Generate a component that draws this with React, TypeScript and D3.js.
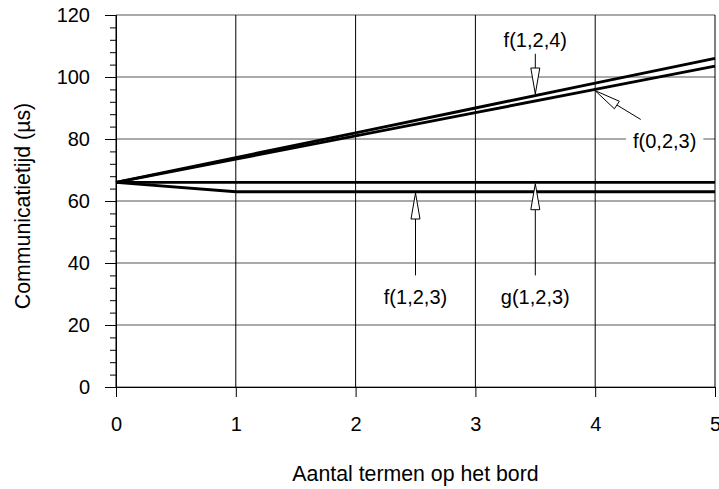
import React, { useEffect, useRef } from "react";
import * as d3 from "d3";

const xTicks = [0, 1, 2, 3, 4, 5];
const yTicks = [0, 20, 40, 60, 80, 100, 120];
const f124 = [66, 74, 82, 90, 98, 106];
const f023 = [66, 73.5, 81, 88.5, 96, 103.5];
const g123 = [66, 66, 66, 66, 66, 66];
const f123 = [66, 63, 63, 63, 63, 63];

const seriesList = [
  { name: "f(1,2,4)", values: f124 },
  { name: "f(0,2,3)", values: f023 },
  { name: "g(1,2,3)", values: g123 },
  { name: "f(1,2,3)", values: f123 },
];

const W = 719;
const H = 489;
const margin = { top: 15, right: 4, bottom: 102, left: 116 };
const font = "'Liberation Sans', Arial, sans-serif";

const App = () => {
  const ref = useRef(null);

  useEffect(() => {
    const svg = d3.select(ref.current);
    svg.selectAll("*").remove();

    const x = d3.scaleLinear().domain([0, 5]).range([margin.left, W - margin.right]);
    const y = d3.scaleLinear().domain([0, 120]).range([H - margin.bottom, margin.top]);

    // horizontal grid
    svg
      .append("g")
      .selectAll("line")
      .data(yTicks)
      .join("line")
      .attr("x1", x(0))
      .attr("x2", x(5))
      .attr("y1", (d) => y(d))
      .attr("y2", (d) => y(d))
      .attr("stroke", "#555")
      .attr("stroke-width", 1);

    // vertical grid
    svg
      .append("g")
      .selectAll("line")
      .data(xTicks)
      .join("line")
      .attr("x1", (d) => x(d))
      .attr("x2", (d) => x(d))
      .attr("y1", y(0))
      .attr("y2", y(120))
      .attr("stroke", "#000")
      .attr("stroke-width", 1);

    // y axis: major + minor ticks
    const yAxis = svg
      .append("g")
      .attr("transform", `translate(${x(0)},0)`)
      .call(d3.axisLeft(y).tickValues(yTicks).tickSize(11).tickPadding(15));
    yAxis.select(".domain").attr("stroke", "#000");
    yAxis.selectAll("text").attr("font-size", 20).attr("font-family", font).attr("fill", "#000");
    svg
      .append("g")
      .attr("transform", `translate(${x(0)},0)`)
      .call(
        d3
          .axisLeft(y)
          .tickValues(d3.range(0, 121, 4).filter((v) => v % 20 !== 0))
          .tickSize(6)
          .tickFormat(() => "")
      )
      .call((g) => g.select(".domain").remove());

    // x axis
    const xAxis = svg
      .append("g")
      .attr("transform", `translate(0,${y(0)})`)
      .call(d3.axisBottom(x).tickValues(xTicks).tickSize(10).tickPadding(20).tickFormat(d3.format("d")));
    xAxis.select(".domain").attr("stroke", "#000");
    xAxis.selectAll("text").attr("font-size", 20).attr("font-family", font).attr("fill", "#000");

    // series
    const line = d3
      .line<number>()
      .x((d, i) => x(xTicks[i]))
      .y((d) => y(d));

    svg
      .append("g")
      .selectAll("path")
      .data(seriesList)
      .join("path")
      .attr("d", (d) => line(d.values))
      .attr("fill", "none")
      .attr("stroke", "#000")
      .attr("stroke-width", 2.9);

    const valAt = (vals, xv) => {
      const i = Math.floor(xv);
      const t = xv - i;
      return i >= 5 ? vals[5] : vals[i] * (1 - t) + vals[i + 1] * t;
    };

    // annotations: label position (data units), arrow tail (data units), target
    const notes = [
      { text: "f(1,2,4)", vals: f124, at: 3.5, lx: 3.5, ly: 112, tx: 3.5, ty: 107.5, off: -1.6 },
      { text: "f(0,2,3)", vals: f023, at: 4, lx: 4.58, ly: 79.5, tx: 4.38, ty: 86.3, off: 1.3 },
      { text: "f(1,2,3)", vals: f123, at: 2.5, lx: 2.5, ly: 29, tx: 2.5, ty: 36, off: 1.3 },
      { text: "g(1,2,3)", vals: g123, at: 3.5, lx: 3.5, ly: 29, tx: 3.5, ty: 36, off: 1.3 },
    ];

    const ng = svg.append("g");
    notes.forEach((n) => {
      const tipX = x(n.at);
      const tipYraw = y(valAt(n.vals, n.at));
      const tailX = x(n.tx);
      const tailY = y(n.ty);
      const ang = Math.atan2(tailY - tipYraw, tailX - tipX);
      const tipY = tipYraw + n.off;
      const ux = Math.cos(ang);
      const uy = Math.sin(ang);
      const len = 26;
      const hw = 4.5;
      const bx = tipX + ux * len;
      const by = tipY + uy * len;

      const lab = ng.append("g");
      const t = lab
        .append("text")
        .attr("x", x(n.lx))
        .attr("y", y(n.ly))
        .attr("dy", "0.35em")
        .attr("text-anchor", "middle")
        .attr("font-size", 20)
        .attr("font-family", font)
        .text(n.text);
      const bb = (t.node() as SVGTextElement).getBBox();
      lab
        .insert("rect", "text")
        .attr("x", bb.x - 7)
        .attr("y", bb.y)
        .attr("width", bb.width + 14)
        .attr("height", bb.height)
        .attr("fill", "#fff");

      ng.append("line")
        .attr("x1", tailX)
        .attr("y1", tailY)
        .attr("x2", bx)
        .attr("y2", by)
        .attr("stroke", "#000")
        .attr("stroke-width", 1);
      ng.append("path")
        .attr(
          "d",
          `M${tipX},${tipY}L${bx - uy * hw},${by + ux * hw}L${bx + uy * hw},${by - ux * hw}Z`
        )
        .attr("fill", "#fff")
        .attr("stroke", "#000")
        .attr("stroke-width", 1);
    });

    // axis titles
    svg
      .append("text")
      .attr("x", (x(0) + x(5)) / 2)
      .attr("y", 481)
      .attr("text-anchor", "middle")
      .attr("font-size", 21.3)
      .attr("font-family", font)
      .text("Aantal termen op het bord");

    svg
      .append("text")
      .attr("transform", `translate(30,${(y(0) + y(120)) / 2 + 5}) rotate(-90)`)
      .attr("text-anchor", "middle")
      .attr("font-size", 21.3)
      .attr("font-family", font)
      .text("Communicatietijd (µs)");
  }, []);

  return (
    <svg
      ref={ref}
      width={W}
      height={H}
      style={{ position: "absolute", left: 0, top: 0, background: "#fff" }}
    />
  );
};

export default App;
